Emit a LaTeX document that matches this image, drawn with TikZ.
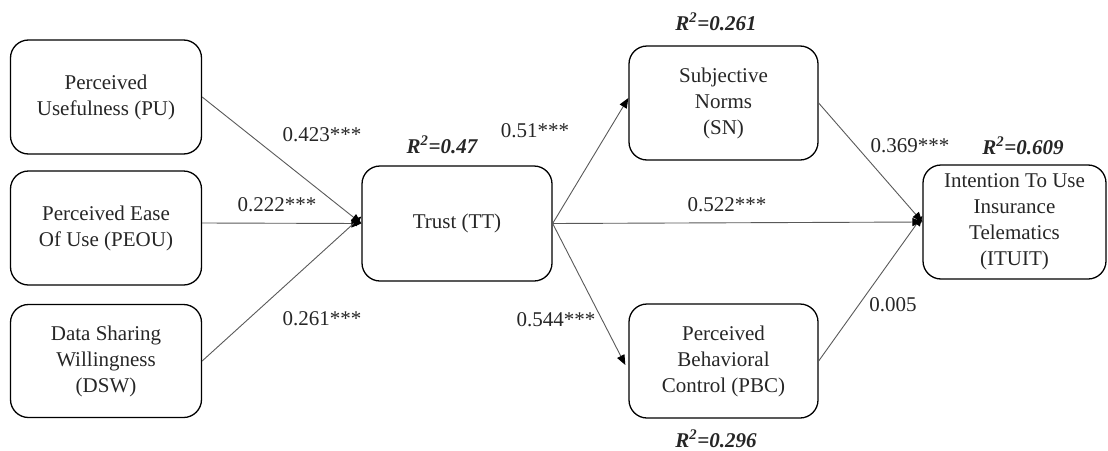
\documentclass[tikz,border=0pt]{standalone}
\usepackage{fontspec}
\setmainfont{Liberation Serif}
\usetikzlibrary{arrows.meta}
\begin{document}
\begin{tikzpicture}[x=1pt,y=-1pt,
  box/.style={draw=black,line width=1.3pt,rounded corners=18pt,align=center,
    font=\fontsize{21}{26}\selectfont,text=black!85,inner sep=0pt},
  path/.style={draw=black!65,line width=0.9pt,-{Triangle[length=10pt,width=8pt,fill=black,color=black]}},
  lab/.style={font=\fontsize{21}{26}\selectfont,text=black!85,inner sep=0pt},
  rsq/.style={font=\fontsize{21}{26}\selectfont\bfseries\itshape,text=black!85,inner sep=0pt}]
\useasboundingbox (0,0) rectangle (1108,450);
\node[box,minimum width=191pt,minimum height=114pt] (PU) at (106,97) {Perceived\\Usefulness (PU)};
\node[box,minimum width=191pt,minimum height=114pt] (PEOU) at (106,228) {Perceived Ease\\Of Use (PEOU)};
\node[box,minimum width=191pt,minimum height=113pt] (DSW) at (106,361) {Data Sharing\\Willingness\\(DSW)};
\node[box,minimum width=190pt,minimum height=115pt] (TT) at (457,223.5) {Trust (TT)};
\node[box,minimum width=189pt,minimum height=114pt] (SN) at (723.5,103) {Subjective\\Norms\\(SN)};
\node[box,minimum width=189pt,minimum height=114pt] (PBC) at (723.5,361) {Perceived\\Behavioral\\Control (PBC)};
\node[box,minimum width=183pt,minimum height=114pt] (IT) at (1014.5,222) {Intention To Use\\Insurance\\Telematics\\(ITUIT)};
\draw[path] (PU.east) -- (TT.west);
\draw[path] ([yshift=5pt]PEOU.east) -- (TT.west);
\draw[path] (DSW.east) -- ([yshift=7pt]TT.west);
\draw[path] (TT.east) -- ([yshift=5pt]SN.west);
\draw[path] (TT.east) -- ([xshift=-3pt,yshift=-4pt]PBC.west);
\draw[path] (TT.east) -- (IT.west);
\draw[path] (SN.east) -- (IT.west);
\draw[path] (PBC.east) -- ([yshift=6pt]IT.west);
\node[lab] (l1) at (322,135) {0.423***};
\node[lab] (l2) at (277,205) {0.222***};
\node[lab] (l3) at (322,319) {0.261***};
\node[lab] (l4) at (535,131) {0.51***};
\node[lab] (l5) at (556,320) {0.544***};
\node[lab] (l6) at (727,205) {0.522***};
\node[lab] (l7) at (910,146) {0.369***};
\node[lab] (l8) at (893,305) {0.005};
\node[rsq] (r1) at (442,145) {R\textsuperscript{2}=0.47};
\node[rsq] (r2) at (716,22) {R\textsuperscript{2}=0.261};
\node[rsq] (r3) at (1023,146) {R\textsuperscript{2}=0.609};
\node[rsq] (r4) at (716,439) {R\textsuperscript{2}=0.296};
\end{tikzpicture}
\end{document}
